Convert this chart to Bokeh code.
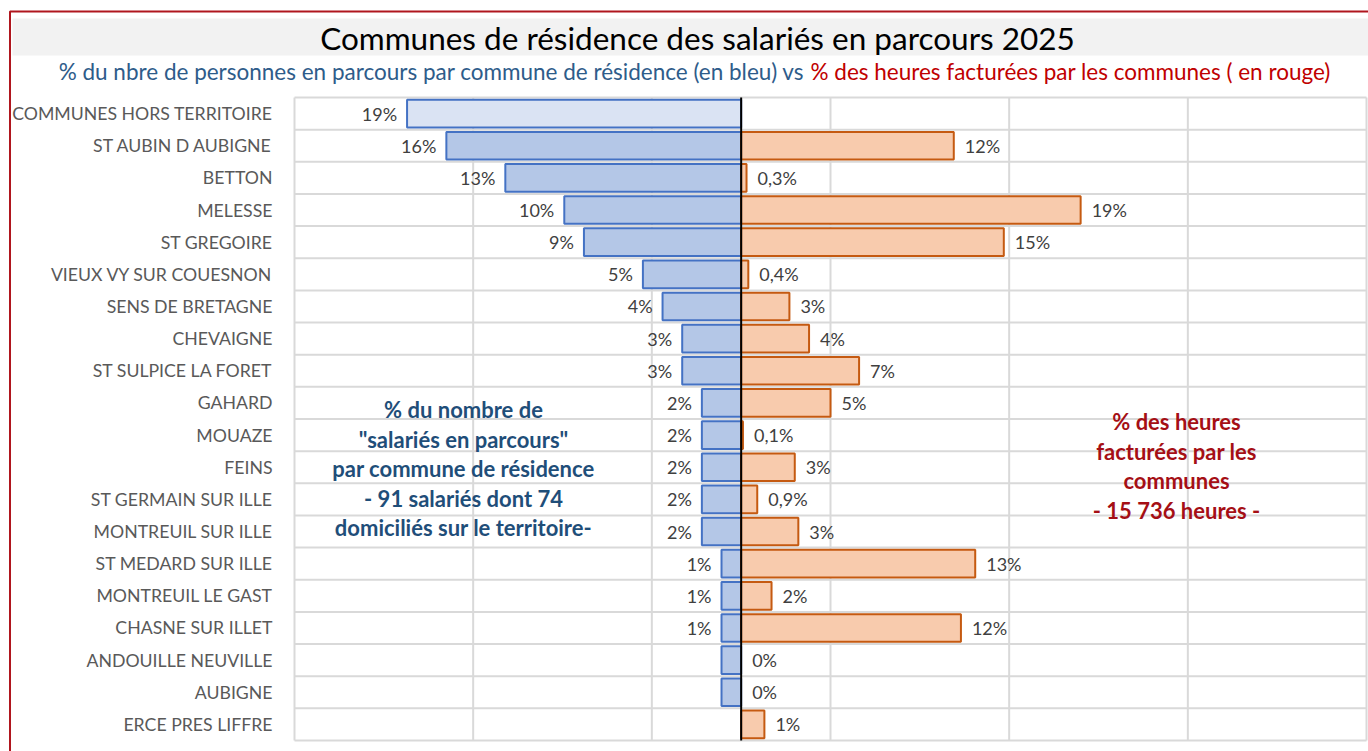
from bokeh.plotting import figure
from bokeh.models import ColumnDataSource, Range1d, Label, BoxAnnotation
from bokeh.core.properties import value
from bokeh.embed import file_html
from bokeh.resources import INLINE

# ---------------- data ----------------
communes = ["COMMUNES HORS TERRITOIRE", "ST AUBIN D AUBIGNE", "BETTON", "MELESSE",
            "ST GREGOIRE", "VIEUX VY SUR COUESNON", "SENS DE BRETAGNE", "CHEVAIGNE",
            "ST SULPICE LA FORET", "GAHARD", "MOUAZE", "FEINS", "ST GERMAIN SUR ILLE",
            "MONTREUIL SUR ILLE", "ST MEDARD SUR ILLE", "MONTREUIL LE GAST",
            "CHASNE SUR ILLET", "ANDOUILLE NEUVILLE", "AUBIGNE", "ERCE PRES LIFFRE"]

pct_salaries = [18.7, 16.5, 13.2, 9.9, 8.8, 5.5, 4.4, 3.3, 3.3, 2.2,
                2.2, 2.2, 2.2, 2.2, 1.1, 1.1, 1.1, 1.1, 1.1, 0.0]
labels_salaries = ["19%", "16%", "13%", "10%", "9%", "5%", "4%", "3%", "3%", "2%",
                   "2%", "2%", "2%", "2%", "1%", "1%", "1%", "", "", ""]

pct_heures = [None, 11.9, 0.3, 19.0, 14.7, 0.4, 2.7, 3.8, 6.6, 5.0,
              0.1, 3.0, 0.9, 3.2, 13.1, 1.7, 12.3, 0.0, 0.0, 1.3]
labels_heures = ["", "12%", "0,3%", "19%", "15%", "0,4%", "3%", "4%", "7%", "5%",
                 "0,1%", "3%", "0,9%", "3%", "13%", "2%", "12%", "0%", "0%", "1%"]

x_gridlines = [-25, -15, -5, 5, 15, 25, 35]

title_text = "Communes de résidence des salariés en parcours 2025"
subtitle_blue = "% du nbre de personnes en parcours par commune de résidence (en bleu) vs"
subtitle_red = "% des heures facturées par les communes ( en rouge)"
note_blue = ["% du nombre de", "\"salariés en parcours\"", "par commune de résidence",
             "- 91 salariés dont 74", "domiciliés sur le territoire-"]
note_red = ["% des heures", "facturées par les", "communes", "- 15 736 heures -"]

# ---------------- geometry (canvas pixels) ----------------
W, H = 1368, 751
F_LEFT, F_RIGHT, F_TOP, F_BOTTOM = 294, 1366, 97, 740   # plot area
X0, X1 = -25, 35
n = len(communes)
Y0, Y1 = -0.5, n - 0.5

def px_x(px):
    return X0 + (px - F_LEFT) * (X1 - X0) / (F_RIGHT - F_LEFT)

def px_y(py):
    return Y1 - (py - F_TOP) * (Y1 - Y0) / (F_BOTTOM - F_TOP)

ypos = [n - 1 - i for i in range(n)]

p = figure(width=W, height=H, x_range=Range1d(px_x(0), px_x(W)),
           y_range=Range1d(px_y(H), px_y(0)),
           output_backend="svg", toolbar_location=None,
           x_axis_location=None, y_axis_location=None,
           min_border=0, min_border_left=0, min_border_right=0,
           min_border_top=0, min_border_bottom=0)
p.grid.visible = False
p.outline_line_color = None
p.background_fill_color = "white"
p.border_fill_color = "white"

# ---------------- plot-area gridlines ----------------
GRID = "#D9D9D9"
p.segment(x0=x_gridlines, x1=x_gridlines, y0=[Y0] * len(x_gridlines),
          y1=[Y1] * len(x_gridlines), line_color=GRID, line_width=2)
hy = [k - 0.5 for k in range(n + 1)]
p.segment(x0=[X0] * len(hy), x1=[X1] * len(hy), y0=hy, y1=hy,
          line_color=GRID, line_width=2)

# ---------------- category labels ----------------
p.text(x=[X0] * n, y=ypos, text=communes, x_offset=-22, text_align="right",
       text_baseline="middle", text_font=value("Lato"), text_font_size="17.7px",
       text_color="#595959")

# ---------------- bars ----------------
blue_fill = ["#DAE3F3" if c == "COMMUNES HORS TERRITOIRE" else "#B4C7E7" for c in communes]
bs = [i for i in range(n) if pct_salaries[i] > 0]
src_b = ColumnDataSource(dict(y=[ypos[i] for i in bs], left=[-pct_salaries[i] for i in bs],
                              fill=[blue_fill[i] for i in bs]))
p.hbar(y="y", left="left", right=0, height=0.86, source=src_b, fill_color="fill",
       line_color="#4472C4", line_width=2)

rs = [i for i in range(n) if pct_heures[i] is not None and pct_heures[i] > 0]
src_r = ColumnDataSource(dict(y=[ypos[i] for i in rs], right=[pct_heures[i] for i in rs]))
p.hbar(y="y", left=0, right="right", height=0.86, source=src_r, fill_color="#F8CBAD",
       line_color="#C55A11", line_width=2)

p.segment(x0=[0], x1=[0], y0=[Y0], y1=[Y1], line_color="black", line_width=2)

# ---------------- value labels ----------------
bl = [i for i in range(n) if labels_salaries[i]]
src_bl = ColumnDataSource(dict(x=[-pct_salaries[i] for i in bl], y=[ypos[i] for i in bl],
                               t=[labels_salaries[i] for i in bl]))
p.text(x="x", y="y", text="t", source=src_bl, x_offset=-10, text_align="right",
       text_baseline="middle", text_font=value("Lato"), text_font_size="18px",
       text_color="#404040")

rl = [i for i in range(n) if labels_heures[i]]
src_rl = ColumnDataSource(dict(x=[pct_heures[i] for i in rl], y=[ypos[i] for i in rl],
                               t=[labels_heures[i] for i in rl]))
p.text(x="x", y="y", text="t", source=src_rl, x_offset=11, text_align="left",
       text_baseline="middle", text_font=value("Lato"), text_font_size="18px",
       text_color="#404040")

# ---------------- title band, titles, border ----------------
p.add_layout(BoxAnnotation(left=px_x(12), right=px_x(W + 20), top=px_y(18), bottom=px_y(55),
                           fill_color="#F2F2F2", fill_alpha=1, line_color=None,
                           level="underlay"))
p.add_layout(BoxAnnotation(left=px_x(9.5), right=px_x(W + 40), top=px_y(11), bottom=px_y(H + 40),
                           fill_alpha=0, fill_color=None, line_color="#B0161E",
                           line_alpha=1, line_width=2))

p.add_layout(Label(x=px_x(697), y=px_y(37), text=title_text, text_align="center",
                   text_baseline="middle", text_font="Lato", text_font_size="31.5px",
                   text_color="black"))
p.add_layout(Label(x=px_x(804), y=px_y(71), text=subtitle_blue, text_align="right",
                   text_baseline="middle", text_font="Lato", text_font_size="22.5px",
                   text_color="#2E5C8A"))
p.add_layout(Label(x=px_x(810), y=px_y(71), text=subtitle_red, text_align="left",
                   text_baseline="middle", text_font="Lato", text_font_size="22.5px",
                   text_color="#C00000"))

for k, t in enumerate(note_blue):
    p.add_layout(Label(x=px_x(463), y=px_y(409 + 29.5 * k), text=t, text_align="center",
                       text_baseline="middle", text_font="Lato", text_font_size="22px",
                       text_font_style="bold", text_color="#1F4E79"))
for k, t in enumerate(note_red):
    p.add_layout(Label(x=px_x(1176), y=px_y(421 + 29.5 * k), text=t, text_align="center",
                       text_baseline="middle", text_font="Lato", text_font_size="22px",
                       text_font_style="bold", text_color="#A50F15"))

open("out.html", "w").write(file_html(p, INLINE))
